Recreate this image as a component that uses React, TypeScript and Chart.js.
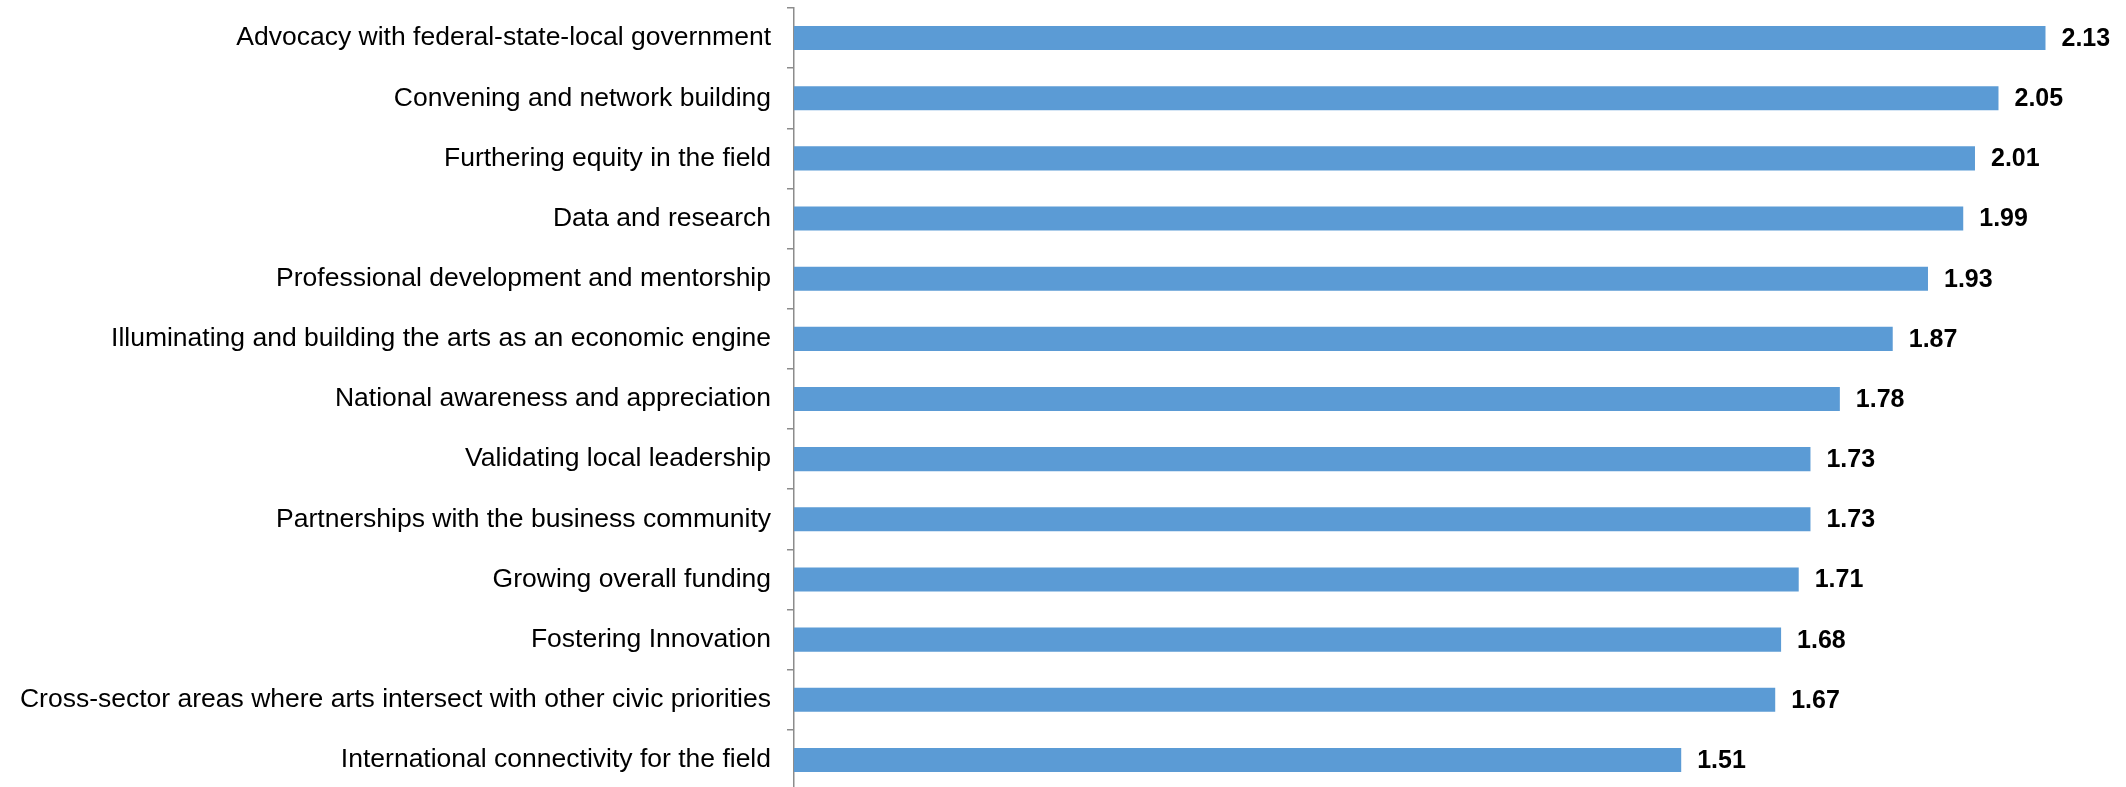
import React, { useEffect, useRef } from "react";
import { Chart, registerables } from "chart.js";

Chart.register(...registerables);

const categories = [
  "Advocacy with federal-state-local government",
  "Convening and network building",
  "Furthering equity in the field",
  "Data and research",
  "Professional development and mentorship",
  "Illuminating and building the arts as an economic engine",
  "National awareness and appreciation",
  "Validating local leadership",
  "Partnerships with the business community",
  "Growing overall funding",
  "Fostering Innovation",
  "Cross-sector areas where arts intersect with other civic priorities",
  "International connectivity for the field",
];

const values = [2.13, 2.05, 2.01, 1.99, 1.93, 1.87, 1.78, 1.73, 1.73, 1.71, 1.68, 1.67, 1.51];

const valueLabels = values.map((v) => v.toFixed(2));

const FONT = "'Liberation Sans', Arial, sans-serif";

const valueLabelPlugin = {
  id: "valueLabels",
  afterDatasetsDraw(chart: any) {
    const ctx = chart.ctx;
    const meta = chart.getDatasetMeta(0);
    ctx.save();
    ctx.font = `bold 25px ${FONT}`;
    ctx.fillStyle = "#000000";
    ctx.textAlign = "left";
    ctx.textBaseline = "middle";
    meta.data.forEach((bar: any, i: number) => {
      ctx.fillText(valueLabels[i], bar.x + 16, bar.y + 1);
    });
    ctx.restore();
  },
};

export default function App() {
  const canvasRef = useRef<HTMLCanvasElement | null>(null);

  useEffect(() => {
    document.body.style.margin = "0";
    document.body.style.overflow = "hidden";
    const canvas = canvasRef.current;
    if (!canvas) return;
    const chart = new Chart(canvas, {
      type: "bar",
      data: {
        labels: categories,
        datasets: [
          {
            data: values,
            backgroundColor: "#5B9BD5",
            borderWidth: 0,
            barPercentage: 0.4,
            categoryPercentage: 1,
          },
        ],
      },
      options: {
        indexAxis: "y",
        animation: false,
        responsive: false,
        maintainAspectRatio: false,
        layout: { padding: { top: 8, right: 10, bottom: 0, left: 0 } },
        plugins: {
          legend: { display: false },
          tooltip: { enabled: false },
        },
        scales: {
          x: {
            display: false,
            min: 0,
            max: 2.25,
          },
          y: {
            afterFit(scale: any) {
              scale.width = 794;
              scale.paddingTop = 0;
              scale.paddingBottom = 0;
            },
            border: { display: true, color: "#8C8C8C", width: 1.5 },
            grid: {
              display: true,
              drawOnChartArea: false,
              drawTicks: true,
              tickLength: 7,
              offset: true,
              color: "#8C8C8C",
              lineWidth: 1.5,
            },
            ticks: {
              color: "#000000",
              padding: 16,
              font: { family: FONT, size: 26.5 },
            },
          },
        },
      },
      plugins: [valueLabelPlugin],
    });
    return () => chart.destroy();
  }, []);

  return (
    <div style={{ width: 2126, height: 790 }}>
      <canvas ref={canvasRef} width={2126} height={790} style={{ width: 2126, height: 790, display: "block" }} />
    </div>
  );
}
